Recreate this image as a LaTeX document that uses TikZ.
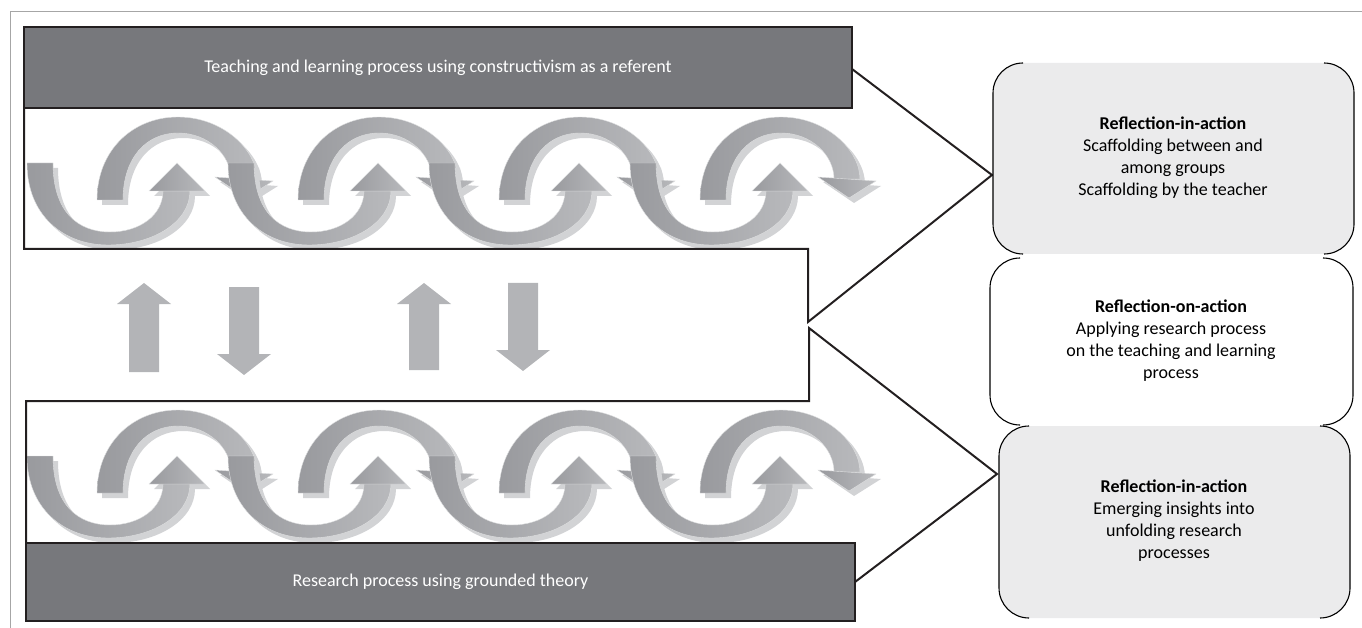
\documentclass[tikz,border=0pt]{standalone}
\usepackage{fontspec}
\setmainfont{Carlito}
\definecolor{boxdark}{HTML}{77787C}
\definecolor{edge}{HTML}{231F20}
\definecolor{ribdark}{HTML}{999A9E}
\definecolor{riblight}{HTML}{B8B9BC}
\definecolor{ribshadow}{HTML}{D2D3D5}
\definecolor{headgray}{HTML}{B3B4B7}
\definecolor{panel}{HTML}{EBEBEC}
\definecolor{framegray}{HTML}{A6A6A6}
\begin{document}
\begin{tikzpicture}[x=1pt,y=-1pt,
  lbl/.style={font=\fontsize{18}{22}\selectfont, align=center, inner sep=0pt},
  band/.style={draw=edge, line width=2pt, line join=miter},
  darkbox/.style={draw=edge, line width=2pt, fill=boxdark, inner sep=0pt},
  rib/.style={left color=ribdark, right color=riblight, draw=white!70!ribdark, line width=0.4pt},
  ribsh/.style={fill=ribshadow},
  bracket/.style={draw=black, line width=1.1pt, rounded corners=30pt}
]
\useasboundingbox (0,0) rectangle (1362,628);
% frame
\draw[framegray, line width=1pt] (10,628) -- (10,12) -- (1362,12);

% wave ribbons
\foreach \yo in {0,293}{
 \foreach \xo in {28,229,430,631}{
  \begin{scope}[shift={(\xo,\yo)}]
   % U-shaped ribbon with upward head
   \foreach \s/\st in {5/ribsh,0/rib}{
    \path[\st, shift={(\s,\s)}] (-1,163) .. controls (-1,215) and (35,245) .. (80,245)
      .. controls (125,245) and (162,222) .. (162,191) -- (135,191)
      .. controls (135,215) and (112,232) .. (82,232)
      .. controls (50,232) and (25,212) .. (25,163) -- cycle;
    \path[\st, shift={(\s,\s)}] (121,191) -- (177,191) -- (149,163) -- cycle;
   }
   % arch ribbon with downward head
   \foreach \s/\st in {5/ribsh,0/rib}{
    \path[\st, shift={(\s,\s)}] (69,200) .. controls (69,150) and (105,117) .. (150,117)
      .. controls (195,117) and (229,150) .. (229,179) -- (203,179)
      .. controls (203,155) and (180,133) .. (150,133)
      .. controls (118,133) and (95,158) .. (95,200) -- cycle;
    \path[\st, shift={(\s,\s)}] (187,177) -- (245,181) -- (218,198) -- cycle;
   }
  \end{scope}}}

% vertical arrows
\fill[headgray] (129,372) -- (129,304) -- (117,304) -- (144,283) -- (171,304) -- (159,304) -- (159,372) -- cycle;
\fill[headgray] (229,287) -- (229,354) -- (217,354) -- (244,375) -- (271,354) -- (259,354) -- (259,287) -- cycle;
\fill[headgray] (409,370) -- (409,304) -- (397,304) -- (424,283) -- (451,304) -- (439,304) -- (439,370) -- cycle;
\fill[headgray] (508,283) -- (508,350) -- (496,350) -- (523,371) -- (550,350) -- (538,350) -- (538,283) -- cycle;

% bands
\draw[band] (852,69) -- (992,175) -- (808,322) -- (808,249) -- (24,249) -- (24,108);
\draw[band] (26,543) -- (26,401) -- (809,401) -- (809,328) -- (997,474) -- (855,582);
\node[darkbox, minimum width=828pt, minimum height=81pt] (top) at (438,67.5) {};
\node[darkbox, minimum width=829pt, minimum height=78pt] (bot) at (440.5,582) {};
\node[lbl, text=white] (toptext) at (top) {Teaching and learning process using constructivism as a referent};
\node[lbl, text=white] (bottext) at (bot) {Research process using grounded theory};

% right panels
\fill[panel, rounded corners=30pt] (993,63) rectangle (1354,254);
\draw[bracket] (1023,63) -- (993,63) -- (993,254) -- (1023,254);
\draw[bracket] (1324,63) -- (1354,63) -- (1354,254) -- (1324,254);
\draw[bracket] (1020,258) -- (990,258) -- (990,425) -- (1020,425);
\draw[bracket] (1323,258) -- (1353,258) -- (1353,425) -- (1323,425);
\fill[panel, rounded corners=30pt] (999,426) rectangle (1350,618);
\draw[bracket] (1029,426) -- (999,426) -- (999,618) -- (1029,618);
\draw[bracket] (1320,426) -- (1350,426) -- (1350,618) -- (1320,618);

\node[lbl] (r1) at (1173,158) {\textbf{Reflection-in-action}\\Scaffolding between and\\among groups\\Scaffolding by the teacher};
\node[lbl] (r2) at (1171,341) {\textbf{Reflection-on-action}\\Applying research process\\on the teaching and learning\\process};
\node[lbl] (r3) at (1174,521) {\textbf{Reflection-in-action}\\Emerging insights into\\unfolding research\\processes};
\end{tikzpicture}
\end{document}
